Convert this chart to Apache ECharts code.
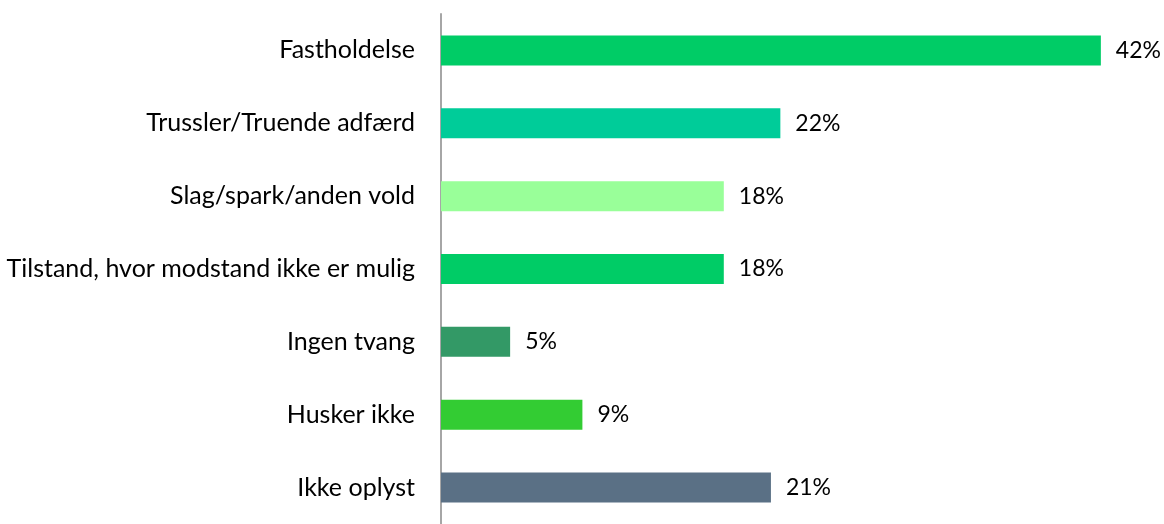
<!DOCTYPE html>
<html>
<head>
<meta charset="utf-8">
<script src="https://cdn.jsdelivr.net/npm/echarts@6/dist/echarts.min.js"></script>
<style>
  html, body { margin: 0; padding: 0; background: #fff; }
  #chart { width: 1164px; height: 524px; }
</style>
</head>
<body>
<div id="chart"></div>
<script>
const categories = [
  'Fastholdelse',
  'Trussler/Truende adfærd',
  'Slag/spark/anden vold',
  'Tilstand, hvor modstand ikke er mulig',
  'Ingen tvang',
  'Husker ikke',
  'Ikke oplyst'
]
const values = [42, 21.6, 18, 18, 4.4, 9, 21]
const valueLabels = ['42%', '22%', '18%', '18%', '5%', '9%', '21%']
const barColors = ['#00cc66', '#00cc99', '#99ff99', '#00cc66', '#339966', '#33cc33', '#5a7085']

const chartInstance = echarts.init(document.getElementById('chart'))

const option = {
  animation: false,
  grid: {
    left: 441,
    top: 14,
    height: 517,
    right: 16
  },
  xAxis: {
    type: 'value',
    min: 0,
    max: 45,
    show: false
  },
  yAxis: {
    type: 'category',
    data: categories,
    inverse: true,
    axisLine: {
      lineStyle: { color: '#a6a6a6', width: 2 }
    },
    axisTick: { show: false },
    axisLabel: {
      margin: 26,
      color: '#000',
      fontFamily: 'Lato',
      fontSize: 25
    }
  },
  series: [{
    type: 'bar',
    barWidth: 30,
    data: values.map((v, i) => ({ value: v, itemStyle: { color: barColors[i] } })),
    label: {
      show: true,
      position: 'right',
      distance: 15,
      color: '#000',
      fontFamily: 'Lato',
      fontSize: 23,
      formatter: p => valueLabels[p.dataIndex]
    }
  }]
}

chartInstance.setOption(option)
</script>
</body>
</html>
